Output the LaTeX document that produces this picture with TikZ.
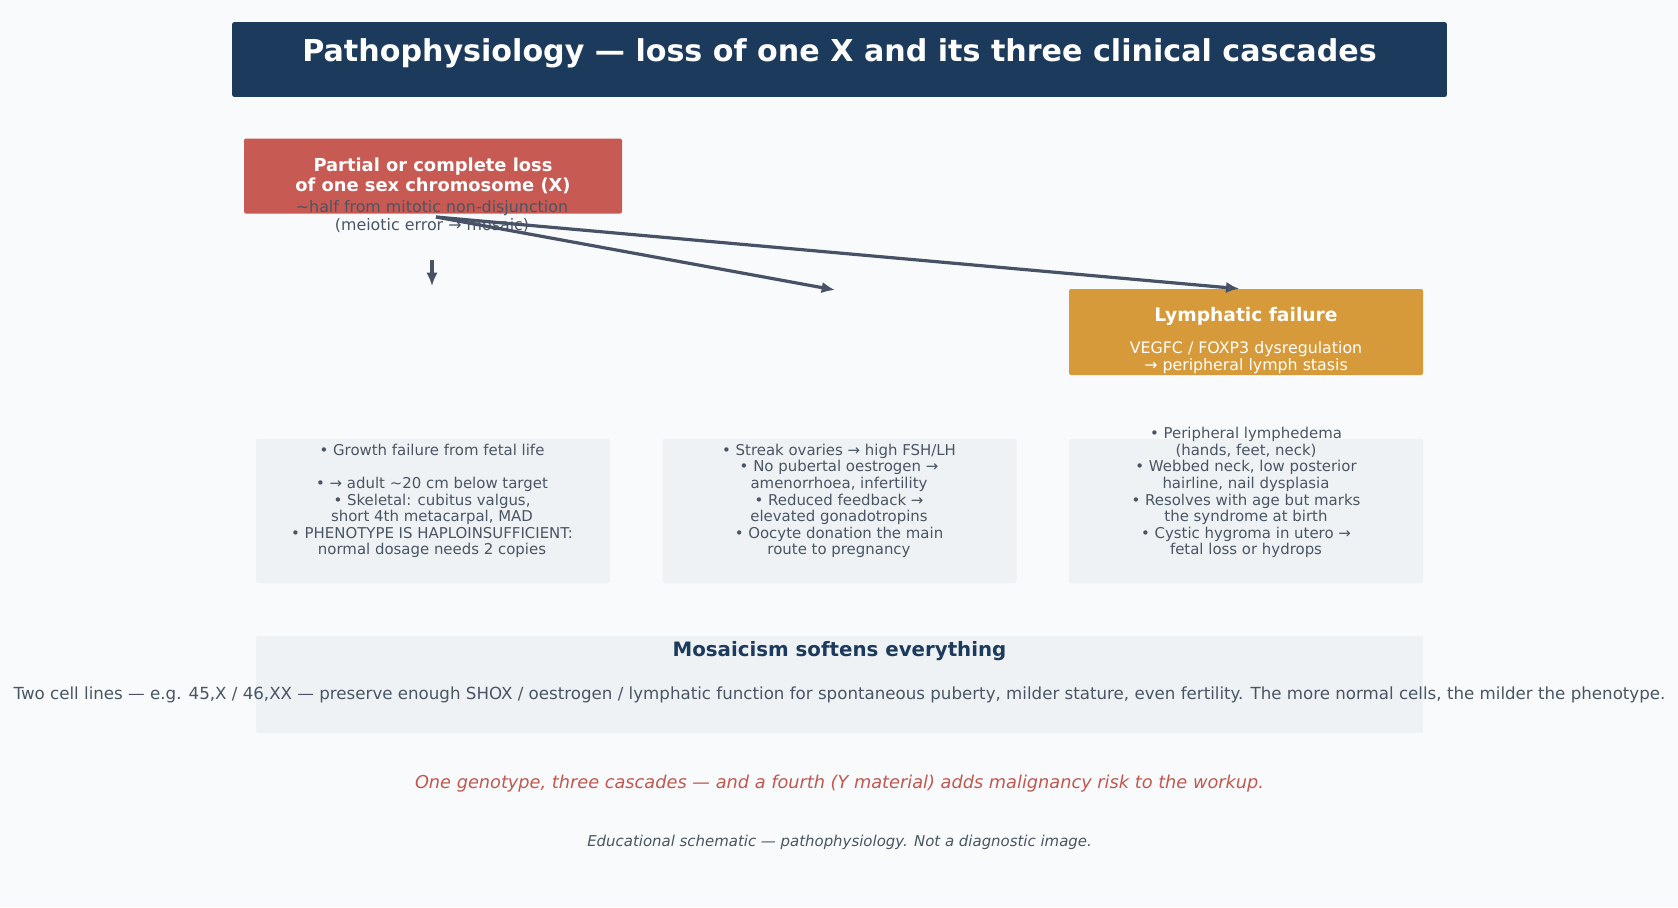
\documentclass[tikz,border=0pt]{standalone}
\usepackage{fontspec}
\setmainfont{DejaVu Sans}
\usetikzlibrary{arrows.meta}

\definecolor{paper}{HTML}{F8FAFC}
\definecolor{navy}{HTML}{1B3A5C}
\definecolor{lossred}{HTML}{C85A54}
\definecolor{lymphorange}{HTML}{D69A3A}
\definecolor{panel}{HTML}{EEF2F5}
\definecolor{inkgray}{HTML}{4A5563}
\definecolor{slate}{HTML}{475266}
\definecolor{notered}{HTML}{C0584F}

\begin{document}
\begin{tikzpicture}[x=0.75pt, y=-0.75pt,
    tile/.style={rectangle, rounded corners=1.5pt, inner sep=0pt},
    body/.style={align=center, inner sep=0pt, text=inkgray, font=\fontsize{11.2}{12.4}\selectfont},
    flow/.style={-{Latex[length=10pt,width=8.5pt]}, color=slate, line width=2.4pt}]
	\fill[paper] (0,0) rectangle (1678,907);
	\useasboundingbox (0,0) rectangle (1678,907);
	% header
	\node[tile, fill=navy, minimum width=911pt, minimum height=56pt] (bar) at (839.5,59.5) {};
	\node[text=white, font=\bfseries\fontsize{22.6}{26}\selectfont] (title) at (839.5,53) {Pathophysiology — loss of one X and its three clinical cascades};
	% root cause
	\node[tile, fill=lossred, minimum width=283.5pt, minimum height=56.25pt, align=center, text=white, font=\bfseries\fontsize{13.4}{15}\selectfont] (loss) at (433,176) {Partial or complete loss\\of one sex chromosome (X)};
	\node[align=center, inner sep=0pt, text=inkgray, font=\fontsize{11.9}{13.5}\selectfont] (origin) at (432,216.5) {\textasciitilde half from mitotic non-disjunction\\(meiotic error → mosaic)};
	\node[tile, fill=lymphorange, minimum width=265.5pt, minimum height=64.5pt] (lymph) at (1246,332) {};
	\node[align=center, inner sep=0pt, text=white, font=\fontsize{11.85}{12.75}\selectfont] (lymphtxt) at (1246,341) {{\bfseries\fontsize{14}{15}\selectfont Lymphatic failure}\\[11.2pt]VEGFC / FOXP3 dysregulation\\→ peripheral lymph stasis};
	% three panels
	\node[tile, fill=panel, minimum width=265.5pt, minimum height=108pt] (stature) at (433,511) {};
	\node[tile, fill=panel, minimum width=265.5pt, minimum height=108pt] (ovary) at (839.5,511) {};
	\node[tile, fill=panel, minimum width=265.5pt, minimum height=108pt] (lymphpanel) at (1246,511) {};
	\node[body, anchor=south] (staturetxt) at (432,558) {• Growth failure from fetal life\\[12.4pt]• → adult \textasciitilde 20 cm below target\\• Skeletal: cubitus valgus,\\short 4th metacarpal, MAD\\• PHENOTYPE IS HAPLOINSUFFICIENT:\\normal dosage needs 2 copies};
	\node[body, anchor=south] (ovarytxt) at (839,558) {• Streak ovaries → high FSH/LH\\• No pubertal oestrogen →\\amenorrhoea, infertility\\• Reduced feedback →\\elevated gonadotropins\\• Oocyte donation the main\\route to pregnancy};
	\node[body, anchor=south] (lymphpaneltxt) at (1246,558) {• Peripheral lymphedema\\(hands, feet, neck)\\• Webbed neck, low posterior\\hairline, nail dysplasia\\• Resolves with age but marks\\the syndrome at birth\\• Cystic hygroma in utero →\\fetal loss or hydrops};
	% mosaicism
	\node[tile, fill=panel, minimum width=875pt, minimum height=72.75pt] (mosaic) at (839.5,684.5) {};
	\node[text=navy, font=\bfseries\fontsize{14.85}{17}\selectfont] (mosaichead) at (839.5,651) {Mosaicism softens everything};
	\node[text=inkgray, font=\fontsize{12.5}{14}\selectfont] (mosaicbody) at (839.5,695) {Two cell lines — e.g. 45,X / 46,XX — preserve enough SHOX / oestrogen / lymphatic function for spontaneous puberty, milder stature, even fertility. The more normal cells, the milder the phenotype.};
	\node[text=notered, font=\itshape\fontsize{13.3}{15}\selectfont] (takeaway) at (839.5,784) {One genotype, three cascades — and a fourth (Y material) adds malignancy risk to the workup.};
	\node[text=inkgray, font=\itshape\fontsize{11.2}{13}\selectfont] (footer) at (839.5,842) {Educational schematic — pathophysiology. Not a diagnostic image.};
	% arrows
	\coordinate (src) at (436,217);
	\coordinate (ovaryin) at (835,290);
	\coordinate (downtop) at (432,260);
	\coordinate (downend) at (432,286);
	\draw[flow] (downtop) -- (downend);
	\draw[flow] (src) -- (ovaryin);
	\draw[flow] (src) -- ([xshift=-5pt]lymph.north);
\end{tikzpicture}
\end{document}
